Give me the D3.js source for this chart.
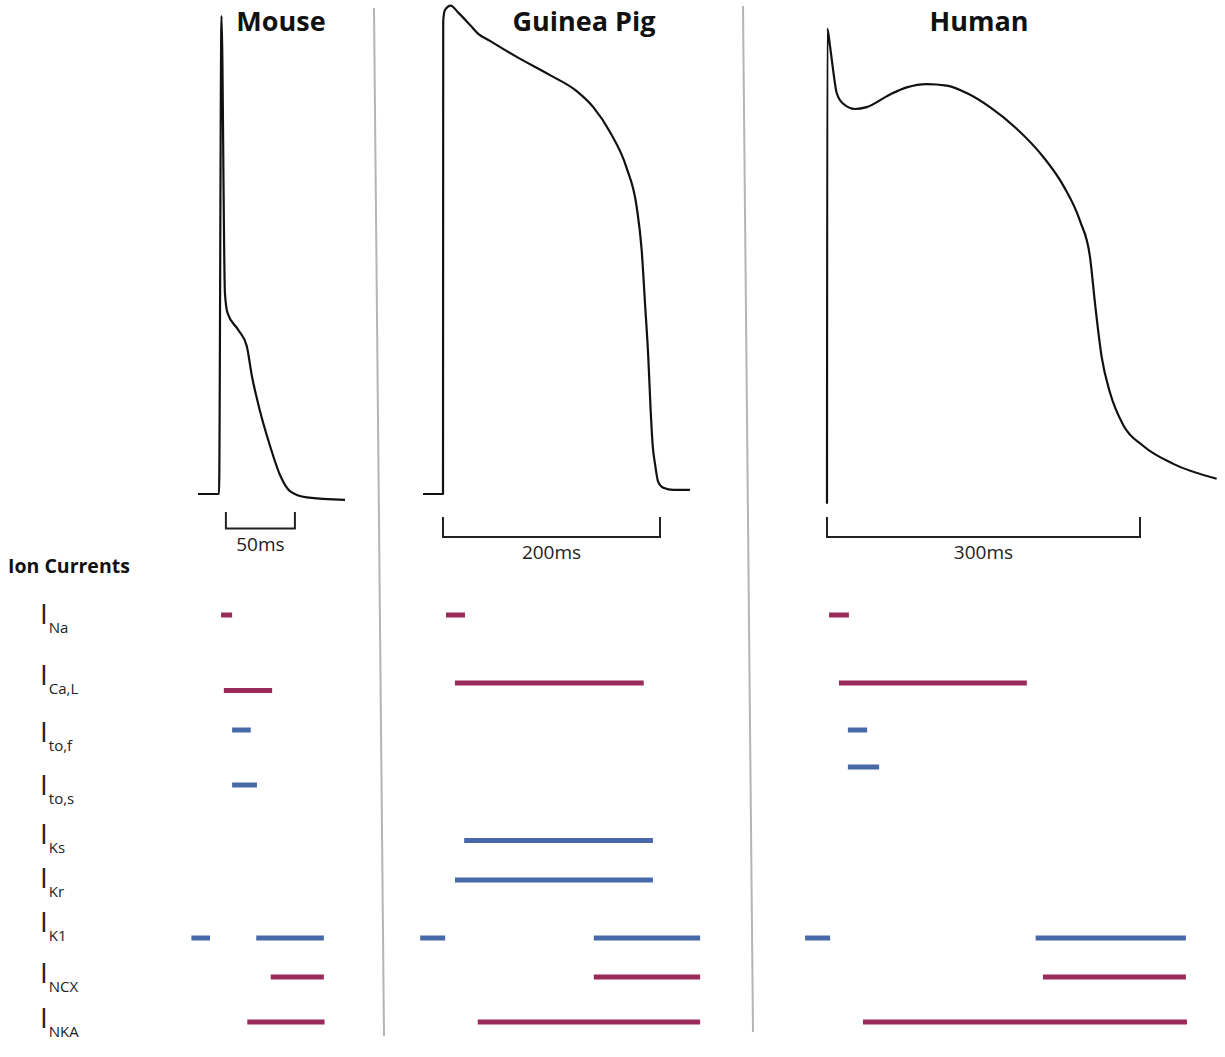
<!DOCTYPE html>
<html>
<head>
<meta charset="utf-8">
<script src="https://cdn.jsdelivr.net/npm/d3@7"></script>
<style>
  body { margin: 0; background: #fff; }
  svg { display: block; font-family: "Open Sans", "Noto Sans", sans-serif; }
</style>
</head>
<body>
<svg id="chart" width="1225" height="1057"></svg>
<script>
// species panels and ion currents
const species = ["Mouse", "Guinea Pig", "Human"];
const currents = ["Na", "Ca,L", "to,f", "to,s", "Ks", "Kr", "K1", "NCX", "NKA"];
const inwardCurrents = ["Na", "Ca,L", "NCX", "NKA"];

// action potentials, [time ms, membrane potential mV]
const mouseAP = [
  [-15.2, -85], [0, -85], [1.8, 43.5], [4.3, -31], [6.2, -36.4], [14, -40.9],
  [20.1, -45.2], [23.7, -53], [29.7, -62.7], [37, -72.1], [44.2, -79.9],
  [51.4, -84.2], [63.6, -85.9], [91.3, -86.6]
];
const guineaPigAP = [
  [-18.4, -85], [0, -85], [0.2, 42.2], [1.8, 45.1], [7.1, 46.3], [14.1, 44.4],
  [24.9, 41.1], [32.5, 38.7], [43.3, 36.8], [67.9, 32.5], [98.6, 27.6],
  [123.2, 23.3], [138.5, 19], [153.9, 12.3], [169.3, 2.6], [178.5, -7.8],
  [183.1, -19.4], [186.2, -33.8], [189.2, -48.2], [191.4, -62.6], [193.3, -72.1],
  [195.4, -76.9], [198.4, -81.8], [203, -83.3], [212.3, -83.9], [227.6, -83.9]
];
const humanAP = [
  [0, -87.6], [0.3, 40.1], [2.9, 35.4], [6, 28.7], [9.3, 22.8], [15.6, 19.9],
  [26.8, 18.5], [38.1, 19], [60.4, 22.4], [76.4, 24.3], [95.6, 25.2],
  [114.7, 24.8], [133.9, 22.8], [156.2, 19], [181.8, 13.2], [207.3, 5.6],
  [226.5, -2.1], [242.5, -11.6], [252.1, -21.3], [256.9, -33.8], [263.3, -48.2],
  [271.3, -57.8], [284, -66.5], [303.2, -72.1], [331.9, -76.9], [373.5, -80.9]
];

// when each current is active, [current, start ms, end ms]
const mouseCurrents = [
  ["Na", 1.5, 9.5], ["Ca,L", 3.5, 38.5], ["to,f", 9.5, 23], ["to,s", 9.5, 27.5],
  ["K1", -20, -6.5], ["K1", 27, 76], ["NCX", 37.5, 76], ["NKA", 20.5, 76.5]
];
const guineaPigCurrents = [
  ["Na", 2.75, 20.25], ["Ca,L", 11, 185], ["Ks", 19.5, 193.5], ["Kr", 11, 193.5],
  ["K1", -21, 2], ["K1", 139, 237], ["NCX", 139, 237], ["NKA", 32, 237]
];
const humanCurrents = [
  ["Na", 2, 21], ["Ca,L", 11.5, 191.5], ["to,f", 20, 38.5], ["to,s", 20, 50],
  ["K1", -21, 3], ["K1", 200, 344], ["NCX", 207, 344], ["NKA", 34.5, 345]
];

// time scale bars, [start ms, end ms]
const scaleBarMs = [[5, 55], [0, 200], [0, 300]];
const scaleBarLabels = ["50ms", "200ms", "300ms"];

const svg = d3.select("#chart");
const crimson = "#992b5a";
const blue = "#4869a9";

// layout of the three panels: pixel of t=0 and pixels per ms
const panels = [
  { x0: 219, k: 1.38, ap: mouseAP, bars: mouseCurrents, titleX: 281, barOffsets: { "Ca,L": 7.5, "to,s": 18 } },
  { x0: 443, k: 1.085, ap: guineaPigAP, bars: guineaPigCurrents, titleX: 584, barOffsets: {} },
  { x0: 827, k: 1.0433, ap: humanAP, bars: humanCurrents, titleX: 979, barOffsets: {} }
];
const scaleBarY = [[512, 528.5], [517, 537], [517, 537]];

const y = d3.scaleLinear().domain([-85, 40]).range([494, 29]);
const barY = d3.scaleOrdinal().domain(currents)
  .range([615, 683, 730, 767, 840.5, 880, 938, 977, 1022]);
const labelY = d3.scaleOrdinal().domain(currents)
  .range([624, 685, 742, 795, 844, 888, 932, 983, 1028]);

// separators
svg.append("line").attr("x1", 374).attr("y1", 8).attr("x2", 384).attr("y2", 1036)
  .attr("stroke", "#b5b5b5").attr("stroke-width", 2);
svg.append("line").attr("x1", 743).attr("y1", 6).attr("x2", 753).attr("y2", 1032)
  .attr("stroke", "#b5b5b5").attr("stroke-width", 2);

panels.forEach((p, i) => {
  const x = d3.scaleLinear().domain([0, 100]).range([p.x0, p.x0 + 100 * p.k]);
  const g = svg.append("g");

  g.append("text").attr("x", p.titleX).attr("y", 31)
    .attr("text-anchor", "middle").attr("font-size", 27).attr("font-weight", 700)
    .attr("fill", "#111").text(species[i]);

  const line = d3.line().x(d => x(d[0])).y(d => y(d[1])).curve(d3.curveMonotoneX);
  g.append("path").datum(p.ap).attr("d", line)
    .attr("fill", "none").attr("stroke", "#111").attr("stroke-width", 2.2)
    .attr("stroke-linejoin", "round");

  // time scale bar
  const [t0, t1] = scaleBarMs[i];
  const [yTop, yBot] = scaleBarY[i];
  g.append("path")
    .attr("d", `M${x(t0)},${yTop}V${yBot}H${x(t1)}V${yTop}`)
    .attr("fill", "none").attr("stroke", "#222").attr("stroke-width", 2);
  g.append("text").attr("x", (x(t0) + x(t1)) / 2).attr("y", yBot + 22)
    .attr("text-anchor", "middle").attr("font-size", 19).attr("fill", "#222")
    .text(scaleBarLabels[i]);

  // ion current bars
  g.selectAll("line.bar").data(p.bars).join("line")
    .attr("class", "bar")
    .attr("x1", d => x(d[1])).attr("x2", d => x(d[2]))
    .attr("y1", d => barY(d[0]) + (p.barOffsets[d[0]] || 0))
    .attr("y2", d => barY(d[0]) + (p.barOffsets[d[0]] || 0))
    .attr("stroke", d => inwardCurrents.includes(d[0]) ? crimson : blue)
    .attr("stroke-width", 5);
});

// row labels
svg.append("text").attr("x", 8).attr("y", 573)
  .attr("font-size", 19.5).attr("font-weight", 700).attr("fill", "#111")
  .text("Ion Currents");

const labels = svg.selectAll("text.lab").data(currents).join("text")
  .attr("class", "lab").attr("x", 40).attr("y", d => labelY(d)).attr("fill", "#222");
labels.append("tspan").attr("font-size", 28).text("I");
labels.append("tspan").attr("font-size", 15).attr("dx", 1).attr("dy", 9).text(d => d);
</script>
</body>
</html>
